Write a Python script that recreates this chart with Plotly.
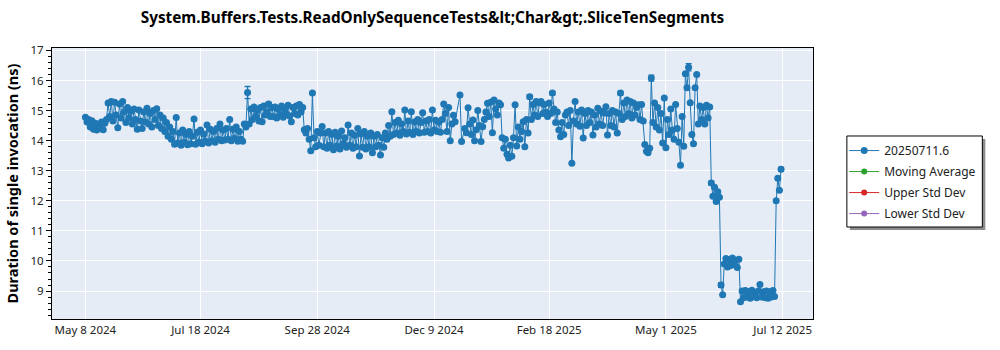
import pandas as pd
import plotly.graph_objects as go

# Mean duration (ns) of each daily run, grouped by calendar month.
# None marks a day without a run.
may_2024 = [14.78, 14.62, 14.70, 14.45, 14.66, 14.38, 14.58, 14.35, 14.55, 14.42,
            14.62, 14.36, 14.58, 14.70, 15.25, 14.80, 15.30, 14.65, 15.28, 14.85,
            14.43, 15.22, 14.75, 15.30]
jun_2024 = [14.95, 14.60, 15.10, 14.75, 14.98, 14.55, 15.05, 14.70, 14.38, 15.02,
            14.65, 14.40, 14.95, 14.62, 15.08, 14.55, 14.90, 14.45, 15.00, 14.70,
            15.06, 14.50, 14.85, 14.40, 14.75, 14.30, 14.60, 14.15, 14.45, 14.05]
jul_2024 = [14.30, 13.88, 14.77, 13.92, 14.25, 13.85, 14.35, 13.95, 14.20, 13.86,
            14.30, 13.90, 14.15, 14.72, 13.88, 14.28, 13.95, 14.35, 13.90, 14.22,
            13.98, 14.52, 13.92, 14.38, 14.00, 14.30, 13.95, 14.40, 14.05, 14.55,
            14.00]
aug_2024 = [14.35, 14.02, 14.40, 14.05, 14.70, 14.00, 14.38, 14.08, 14.45, 13.98,
            14.30, 14.05, 13.98, 14.55, 14.45, 15.60, 14.55, 15.05, 14.70, 15.12,
            14.80, 15.00, 14.65, 15.10, 14.63, 15.15, 14.85, 14.95, 15.22, 14.80,
            15.10]
sep_2024 = [14.80, 15.12, 14.75, 15.05, 14.85, 15.15, 14.78, 15.00, 14.88, 15.18,
            14.82, 14.63, 15.10, 14.90, 15.15, 14.85, 15.20, 14.95, 15.10, 14.36,
            14.25, 14.40, 14.05, 13.66, 15.58, 14.10, 13.80, 14.30, 13.85, 14.25]
oct_2024 = [14.47, 13.80, 14.25, 13.75, 14.30, 13.85, 14.20, 13.70, 14.28, 13.82,
            14.15, 13.72, 14.32, 13.90, 14.10, 13.78, 14.52, 13.85, 14.25, 13.75,
            14.18, 13.80, 14.40, 13.49, 14.22, 13.78, 14.30, 13.72, 14.15, 13.80,
            14.25]
nov_2024 = [13.60, 14.15, 13.80, 14.20, 13.85, 13.52, 14.10, 13.78, 14.25, 14.05,
            14.50, 14.15, 14.96, 14.20, 14.60, 14.25, 14.68, 14.18, 14.55, 14.30,
            15.02, 14.22, 14.65, 14.28, 14.96, 14.20, 14.62, 14.30, 14.70, 14.25]
dec_2024 = [14.60, 14.93, 14.28, 14.65, 14.30, 14.70, 14.25, 15.02, 14.35, 14.68,
            14.30, 14.62, 14.28, 14.70, 15.22, 14.90, 14.30, 15.10, 14.00, 14.55,
            14.84, 14.63, None, None, 15.52, 13.97, None, 14.40, 14.26, 15.09,
            14.55]
jan_2025 = [14.20, 14.69, 14.00, 14.36, 15.00, 14.50, 13.97, 14.46, 14.70, 14.95,
            15.24, 14.80, 15.28, 14.26, 15.35, 15.05, 14.85, 15.25, 15.19, 14.10,
            13.75, 14.05, 13.55, 13.42, 13.85, 13.48, 14.10, 15.19, 13.82, 14.45,
            14.05]
feb_2025 = [14.30, 14.63, 13.80, 14.70, 14.25, 15.46, 14.70, 15.20, 14.85, 15.30,
            14.80, 15.25, 15.30, 14.90, 15.20, 14.95, 14.80, 15.25, 14.90, 15.58,
            15.05, 14.60, 14.95, 14.35, 14.13, 14.60, 14.20, 14.85]
mar_2025 = [14.95, 14.50, 15.00, 13.25, 14.65, 15.30, 14.55, 14.95, 14.48, 15.02,
            14.09, 14.90, 14.50, 15.00, 14.60, 14.95, 14.19, 14.85, 14.45, 15.08,
            14.55, 14.98, 14.50, 14.92, 15.13, 14.19, 14.90, 14.50, 15.00, 14.45,
            14.95]
apr_2025 = [14.25, 14.90, 15.58, 14.70, 15.25, 14.80, 15.35, 14.90, 15.30, 14.75,
            15.25, 14.85, 15.10, 15.19, 14.70, 15.20, 14.65, 13.87, 13.65, 13.60,
            13.75, 16.08, 14.60, 15.25, 14.45, 15.10, 14.35, 14.90, 13.92, 15.42]
may_2025 = [13.76, 14.70, 14.20, 15.05, 14.35, 14.05, 15.20, 14.40, 13.95, 13.18,
            14.80, 13.81, 16.22, 15.76, 16.44, 15.26, 14.20, 13.90, 15.76, 16.20,
            14.55, 15.15, 14.70, 15.10, 14.55, 15.18, 14.75, 15.12, 12.59, 12.15,
            12.45]
jun_2025 = [11.98, 12.30, 12.12, 9.20, 8.88, 9.90, 10.08, 9.80, 10.05, 9.85,
            10.10, 9.88, 10.02, 9.78, 10.06, 8.64, 9.00, 8.78, 9.02, 8.80,
            8.98, 8.76, 9.03, 8.82, 8.95, 8.78, 9.00, 9.22, 8.80, 8.98]
jul_2025 = [8.78, 9.00, 8.76, 8.98, 8.80, 9.02, 8.82, 12.00, 12.75, 12.35, 13.05]

monthly_runs = [
    ("2024-05-08", may_2024), ("2024-06-01", jun_2024), ("2024-07-01", jul_2024),
    ("2024-08-01", aug_2024), ("2024-09-01", sep_2024), ("2024-10-01", oct_2024),
    ("2024-11-01", nov_2024), ("2024-12-01", dec_2024), ("2025-01-01", jan_2025),
    ("2025-02-01", feb_2025), ("2025-03-01", mar_2025), ("2025-04-01", apr_2025),
    ("2025-05-01", may_2025), ("2025-06-01", jun_2025), ("2025-07-01", jul_2025),
]

# Standard deviation of the runs whose spread is wider than the marker.
std_dev = {
    "2024-08-16": 0.20, "2024-08-29": 0.05, "2024-09-17": 0.05,
    "2025-02-06": 0.06, "2025-02-20": 0.06, "2025-04-03": 0.06,
    "2025-04-22": 0.10, "2025-05-15": 0.12, "2025-05-29": 0.06,
    "2025-06-04": 0.08, "2025-07-11": 0.06,
}

x_tick_dates = ["2024-05-08", "2024-07-18", "2024-09-28", "2024-12-09",
                "2025-02-18", "2025-05-01", "2025-07-12"]
x_tick_labels = ["May 8 2024", "Jul 18 2024", "Sep 28 2024", "Dec 9 2024",
                 "Feb 18 2025", "May 1 2025", "Jul 12 2025"]
y_tick_values = [9, 10, 11, 12, 13, 14, 15, 16, 17]

dates, durations = [], []
for start, values in monthly_runs:
    for day, value in zip(pd.date_range(start, periods=len(values), freq="D"), values):
        if value is None:
            continue
        dates.append(day)
        durations.append(value)
errors = [std_dev.get(d.strftime("%Y-%m-%d"), 0.0) for d in dates]

FONT = "Noto Sans"
BLUE = "#1f77b4"

fig = go.Figure()
fig.add_trace(go.Scatter(
    x=dates, y=durations, mode="lines+markers", name="20250711.6",
    legendgroup="a",
    line=dict(color=BLUE, width=1),
    marker=dict(color=BLUE, size=7),
    error_y=dict(type="data", array=errors, visible=True, color=BLUE,
                 thickness=1.3, width=3),
))
for name, color, grp in [("Moving Average", "#2ca02c", "b"),
                         ("Upper Std Dev", "#d62728", "c"),
                         ("Lower Std Dev", "#9467bd", "d")]:
    fig.add_trace(go.Scatter(
        x=[None], y=[None], mode="lines+markers", name=name, legendgroup=grp,
        line=dict(color=color, width=1), marker=dict(color=color, size=6),
    ))

# Legend frame with a drop shadow
fig.add_shape(type="rect", xref="paper", yref="paper",
              x0=1.04843, x1=1.22644, y0=0.32841, y1=0.66421,
              fillcolor="#8c8c8c", line=dict(width=0), layer="above")
fig.add_shape(type="rect", xref="paper", yref="paper",
              x0=1.04450, x1=1.22251, y0=0.33948, y1=0.67528,
              fillcolor="white", line=dict(color="black", width=1), layer="above")

fig.update_layout(
    width=1000, height=350,
    margin=dict(l=49, r=187, t=48, b=31),
    paper_bgcolor="white", plot_bgcolor="#E5ECF6",
    font=dict(family=FONT, size=12, color="#222"),
    title=dict(
        text="System.Buffers.Tests.ReadOnlySequenceTests&amp;lt;Char&amp;gt;.SliceTenSegments",
        x=0.5, xref="paper", xanchor="center",
        y=1 - 18 / 350, yref="container", yanchor="middle",
        font=dict(family=FONT, size=15.3, color="black", weight="bold"),
    ),
    legend=dict(
        x=1.041, xanchor="left", y=0.675, yanchor="top",
        bgcolor="rgba(0,0,0,0)", borderwidth=0,
        tracegroupgap=2,
        font=dict(family=FONT, size=12, color="#222"),
    ),
    showlegend=True,
    xaxis=dict(
        type="date",
        range=["2024-04-17 10:00", "2025-07-30 17:00"],
        tickmode="array", tickvals=x_tick_dates, ticktext=x_tick_labels,
        showgrid=True, gridcolor="white", gridwidth=1,
        showline=True, linecolor="black", linewidth=1, mirror=True,
        ticks="", zeroline=False,
        tickfont=dict(family=FONT, size=11.5, color="#222"),
    ),
    yaxis=dict(
        range=[8.07, 17.08],
        tickmode="array", tickvals=y_tick_values,
        showgrid=True, gridcolor="white", gridwidth=1,
        showline=True, linecolor="black", linewidth=1, mirror=True,
        ticks="outside", ticklen=5, tickcolor="black", zeroline=False,
        minor=dict(tickmode="linear", tick0=8, dtick=0.2, ticks="outside",
                   ticklen=3, tickcolor="black", showgrid=False),
        tickfont=dict(family=FONT, size=11.5, color="#222"),
        title=dict(text="Duration of single invocation (ns)",
                   font=dict(family=FONT, size=14.5, color="black", weight="bold"),
                   standoff=8),
    ),
)

fig.write_html("out.html")
